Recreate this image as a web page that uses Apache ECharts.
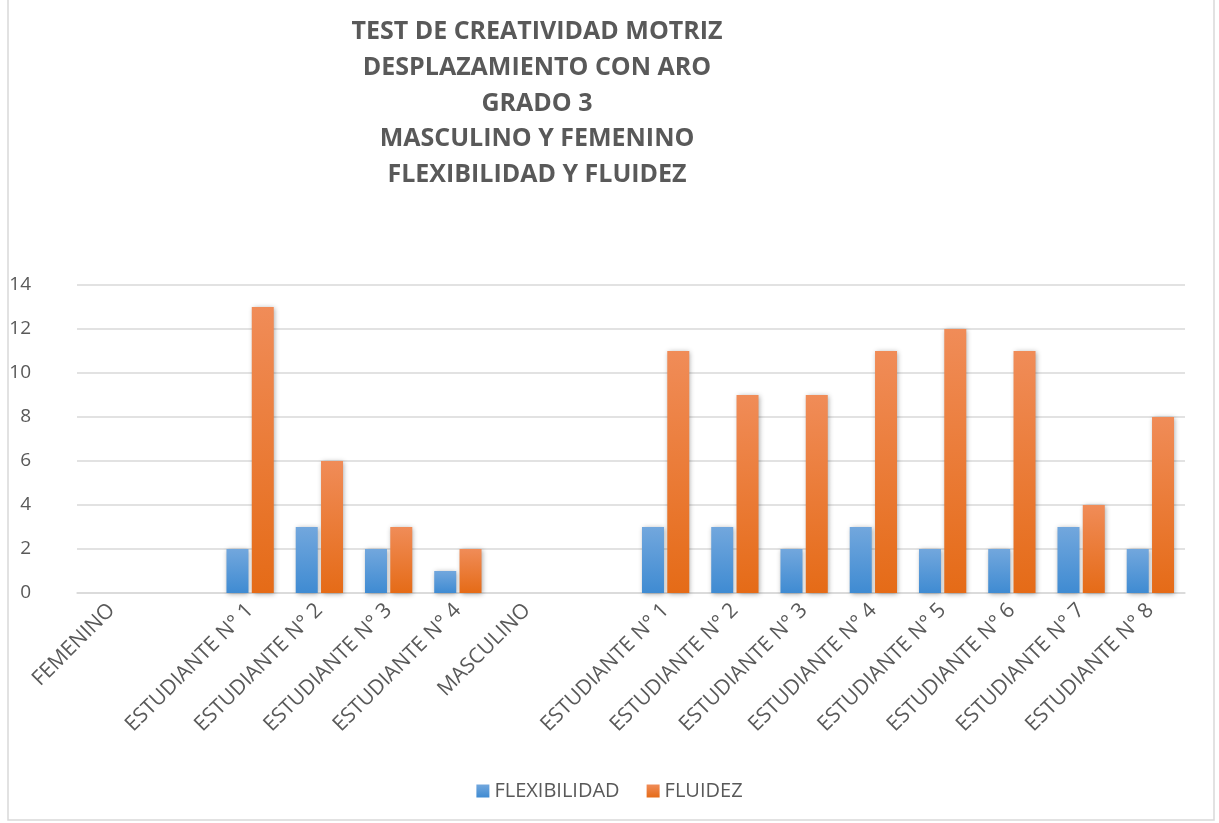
<!DOCTYPE html>
<html>
<head>
    <meta charset="utf-8">
    <title>Test de creatividad motriz</title>
    <script src="https://cdn.jsdelivr.net/npm/echarts@6/dist/echarts.min.js"></script>
    <style>
        html, body { margin: 0; padding: 0; background: #fff; }
        #main { width: 1219px; height: 823px; }
    </style>
</head>
<body>
    <div id="main"></div>
    <script>
        // categorias (las vacias separan los grupos)
        var categorias = ['FEMENINO', '', 'ESTUDIANTE N° 1', 'ESTUDIANTE N° 2', 'ESTUDIANTE N° 3', 'ESTUDIANTE N° 4',
            'MASCULINO', '', 'ESTUDIANTE N° 1', 'ESTUDIANTE N° 2', 'ESTUDIANTE N° 3', 'ESTUDIANTE N° 4',
            'ESTUDIANTE N° 5', 'ESTUDIANTE N° 6', 'ESTUDIANTE N° 7', 'ESTUDIANTE N° 8'];
        var flexibilidad = [null, null, 2, 3, 2, 1, null, null, 3, 3, 2, 3, 2, 2, 3, 2];
        var fluidez = [null, null, 13, 6, 3, 2, null, null, 11, 9, 9, 11, 12, 11, 4, 8];
        var titulo = ['TEST DE CREATIVIDAD MOTRIZ', 'DESPLAZAMIENTO CON ARO', 'GRADO 3',
            'MASCULINO Y FEMENINO', 'FLEXIBILIDAD Y FLUIDEZ'];

        var gris = '#595959';
        var fuente = 'Open Sans';

        function degradado(arriba, abajo) {
            return new echarts.graphic.LinearGradient(0, 0, 0, 1, [
                { offset: 0, color: arriba },
                { offset: 1, color: abajo }
            ]);
        }

        var myChart = echarts.init(document.getElementById('main'));

        var option = {
            animation: false,
            backgroundColor: '#fff',
            title: {
                text: titulo.join('\n'),
                left: 532,
                top: 9,
                textAlign: 'center',
                textStyle: {
                    fontFamily: fuente,
                    fontSize: 25,
                    fontWeight: 'bold',
                    color: gris,
                    lineHeight: 35.8
                }
            },
            graphic: [{
                type: 'rect',
                shape: { x: 8, y: -2, width: 1206, height: 822 },
                style: { fill: 'none', stroke: '#d9d9d9', lineWidth: 1.5 },
                silent: true
            }],
            legend: {
                bottom: 17,
                left: 'center',
                itemWidth: 13,
                itemHeight: 13,
                itemGap: 27,
                icon: 'rect',
                textStyle: { fontFamily: fuente, fontSize: 20, color: gris },
                data: ['FLEXIBILIDAD', 'FLUIDEZ']
            },
            grid: {
                left: 77,
                right: 34,
                top: 285,
                bottom: 230
            },
            xAxis: {
                type: 'category',
                data: categorias,
                axisLine: { lineStyle: { color: '#d9d9d9', width: 1.5 } },
                axisTick: { show: false },
                axisLabel: {
                    interval: 0,
                    rotate: 45,
                    margin: 14,
                    fontFamily: fuente,
                    fontSize: 21,
                    color: gris
                }
            },
            yAxis: {
                type: 'value',
                min: 0,
                max: 14,
                interval: 2,
                axisLine: { show: false },
                axisTick: { show: false },
                splitLine: { lineStyle: { color: '#d9d9d9', width: 1.5 } },
                axisLabel: {
                    margin: 46,
                    fontFamily: fuente,
                    fontSize: 19,
                    color: gris
                }
            },
            series: [{
                name: 'FLEXIBILIDAD',
                type: 'bar',
                data: flexibilidad,
                barWidth: 22,
                barGap: '15%',
                itemStyle: {
                    color: degradado('#72a7dd', '#3f8bd2'),
                    shadowColor: 'rgba(0,0,0,0.35)',
                    shadowBlur: 5,
                    shadowOffsetX: 1,
                    shadowOffsetY: 1
                }
            }, {
                name: 'FLUIDEZ',
                type: 'bar',
                data: fluidez,
                barWidth: 22,
                barGap: '15%',
                itemStyle: {
                    color: degradado('#f08c58', '#e56b17'),
                    shadowColor: 'rgba(0,0,0,0.35)',
                    shadowBlur: 5,
                    shadowOffsetX: 1,
                    shadowOffsetY: 1
                }
            }]
        };

        myChart.setOption(option);
    </script>
</body>
</html>
